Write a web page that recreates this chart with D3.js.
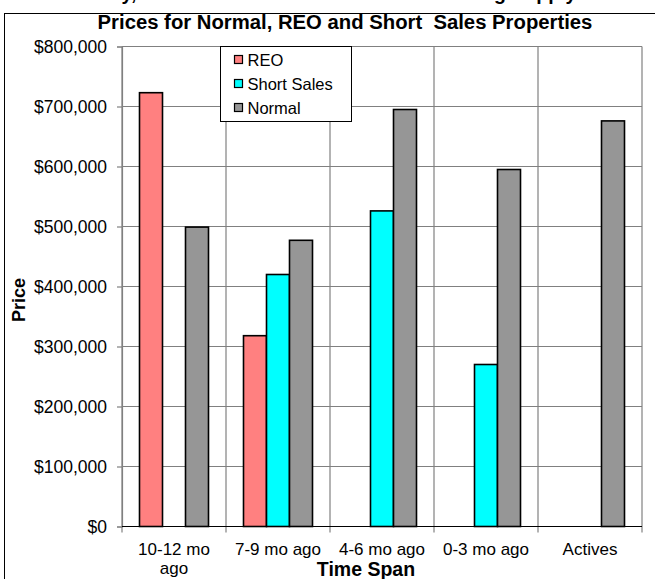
<!DOCTYPE html>
<html>
<head>
<meta charset="utf-8">
<script src="https://cdn.jsdelivr.net/npm/d3@7"></script>
<style>
  body { margin: 0; background: #fff; }
  text { font-family: "Liberation Sans", Arial, sans-serif; }
</style>
</head>
<body>
<div id="chartContainer"></div>
<script>
var categories = ["10-12 mo ago", "7-9 mo ago", "4-6 mo ago", "0-3 mo ago", "Actives"];
var tickLabels = [["10-12 mo", "ago"], ["7-9 mo ago"], ["4-6 mo ago"], ["0-3 mo ago"], ["Actives"]];
var seriesNames = ["REO", "Short Sales", "Normal"];
var reoValues = [723000, 318000, 0, 0, 0];
var shortValues = [0, 420000, 526000, 270000, 0];
var normalValues = [499000, 477000, 695000, 595000, 676000];
var yTicks = [0, 100000, 200000, 300000, 400000, 500000, 600000, 700000, 800000];
var colors = ["#FF8080", "#00FFFF", "#969696"];

function drawChart() {
  var width = 655, height = 579;
  var plot = { left: 122, right: 642, top: 46.5, bottom: 526.5 };

  var svg = d3.select("#chartContainer")
    .append("svg")
    .attr("width", width)
    .attr("height", height);

  // cut-off text from the page above the chart
  svg.append("text")
    .attr("x", 62)
    .attr("y", 0)
    .attr("font-size", "19.5px")
    .attr("font-weight", "bold")
    .text("Activity, Sales Trends and Months of Remaining Supply");

  // chart border
  svg.append("rect")
    .attr("x", 4.5).attr("y", 13.5)
    .attr("width", 700).attr("height", 600)
    .attr("fill", "#fff")
    .attr("stroke", "#000");

  var x = d3.scaleBand()
    .domain(categories)
    .range([plot.left, plot.right]);

  var xInner = d3.scaleBand()
    .domain(seriesNames)
    .range([17.5, 86.5]);

  var y = d3.scaleLinear()
    .domain([0, 800000])
    .range([plot.bottom, plot.top]);

  // gridlines
  svg.append("g").selectAll("line")
    .data(yTicks)
    .enter().append("line")
    .attr("x1", plot.left).attr("x2", plot.right)
    .attr("y1", function(d) { return y(d); })
    .attr("y2", function(d) { return y(d); })
    .attr("stroke", "#808080").attr("stroke-width", 1.2);

  var bounds = categories.map(function(c) { return x(c); }).concat([plot.right]);
  svg.append("g").selectAll("line")
    .data(bounds)
    .enter().append("line")
    .attr("x1", function(d) { return d; }).attr("x2", function(d) { return d; })
    .attr("y1", plot.top).attr("y2", plot.bottom + 6)
    .attr("stroke", "#808080").attr("stroke-width", 1.2);

  // y axis
  var yAxis = svg.append("g")
    .attr("transform", "translate(" + plot.left + ",0)")
    .call(d3.axisLeft(y).tickValues(yTicks).tickSize(5).tickPadding(10)
      .tickFormat(function(d) { return "$" + d3.format(",")(d); }));
  yAxis.select(".domain").attr("stroke", "#808080").attr("stroke-width", 1.2);
  yAxis.selectAll(".tick line").attr("stroke", "#808080").attr("stroke-width", 1.2);
  yAxis.selectAll(".tick text")
    .attr("font-size", "17.5px")
    .attr("fill", "#000")
    .attr("font-family", "Liberation Sans, Arial, sans-serif");

  // bars
  var seriesData = [reoValues, shortValues, normalValues];
  seriesData.forEach(function(vals, si) {
    svg.append("g").selectAll("rect")
      .data(vals)
      .enter()
      .append("rect")
      .attr("x", function(d, i) { return x(categories[i]) + xInner(seriesNames[si]); })
      .attr("y", function(d) { return y(d); })
      .attr("width", xInner.bandwidth())
      .attr("height", function(d) { return y(0) - y(d); })
      .attr("fill", colors[si])
      .attr("stroke", "#000")
      .attr("stroke-width", 1.6);
  });

  // bottom axis line
  svg.append("line")
    .attr("x1", plot.left).attr("x2", plot.right)
    .attr("y1", plot.bottom).attr("y2", plot.bottom)
    .attr("stroke", "#000").attr("stroke-width", 1.2);

  // x tick labels
  var xl = svg.append("g").selectAll("text")
    .data(tickLabels)
    .enter().append("text")
    .attr("x", function(d, i) { return x(categories[i]) + x.bandwidth() / 2; })
    .attr("y", 555)
    .attr("text-anchor", "middle")
    .attr("font-size", "17px");
  xl.selectAll("tspan")
    .data(function(d) { return d; })
    .enter().append("tspan")
    .attr("x", function() { return d3.select(this.parentNode).attr("x"); })
    .attr("dy", function(d, i) { return i === 0 ? 0 : 19; })
    .text(function(d) { return d; });

  // titles
  svg.append("text")
    .attr("x", 345).attr("y", 29)
    .attr("text-anchor", "middle")
    .attr("font-size", "20.3px").attr("font-weight", "bold")
    .style("white-space", "pre")
    .text("Prices for Normal, REO and Short  Sales Properties");

  svg.append("text")
    .attr("x", 366).attr("y", 576)
    .attr("text-anchor", "middle")
    .attr("font-size", "19.5px").attr("font-weight", "bold")
    .text("Time Span");

  svg.append("text")
    .attr("transform", "translate(25,300) rotate(-90)")
    .attr("text-anchor", "middle")
    .attr("font-size", "18px").attr("font-weight", "bold")
    .text("Price");

  // legend
  var legend = svg.append("g").attr("transform", "translate(220.5,46.5)");
  legend.append("rect")
    .attr("width", 131).attr("height", 75)
    .attr("fill", "#fff").attr("stroke", "#000");
  seriesNames.forEach(function(name, i) {
    var row = legend.append("g").attr("transform", "translate(0," + (13 + i * 24) + ")");
    row.append("rect")
      .attr("x", 14).attr("y", -4).attr("width", 8).attr("height", 8)
      .attr("fill", colors[i]).attr("stroke", "#000").attr("stroke-width", 1.2);
    row.append("text")
      .attr("x", 27).attr("y", 6)
      .attr("font-size", "16.5px")
      .text(name);
  });
}

drawChart();
</script>
</body>
</html>
